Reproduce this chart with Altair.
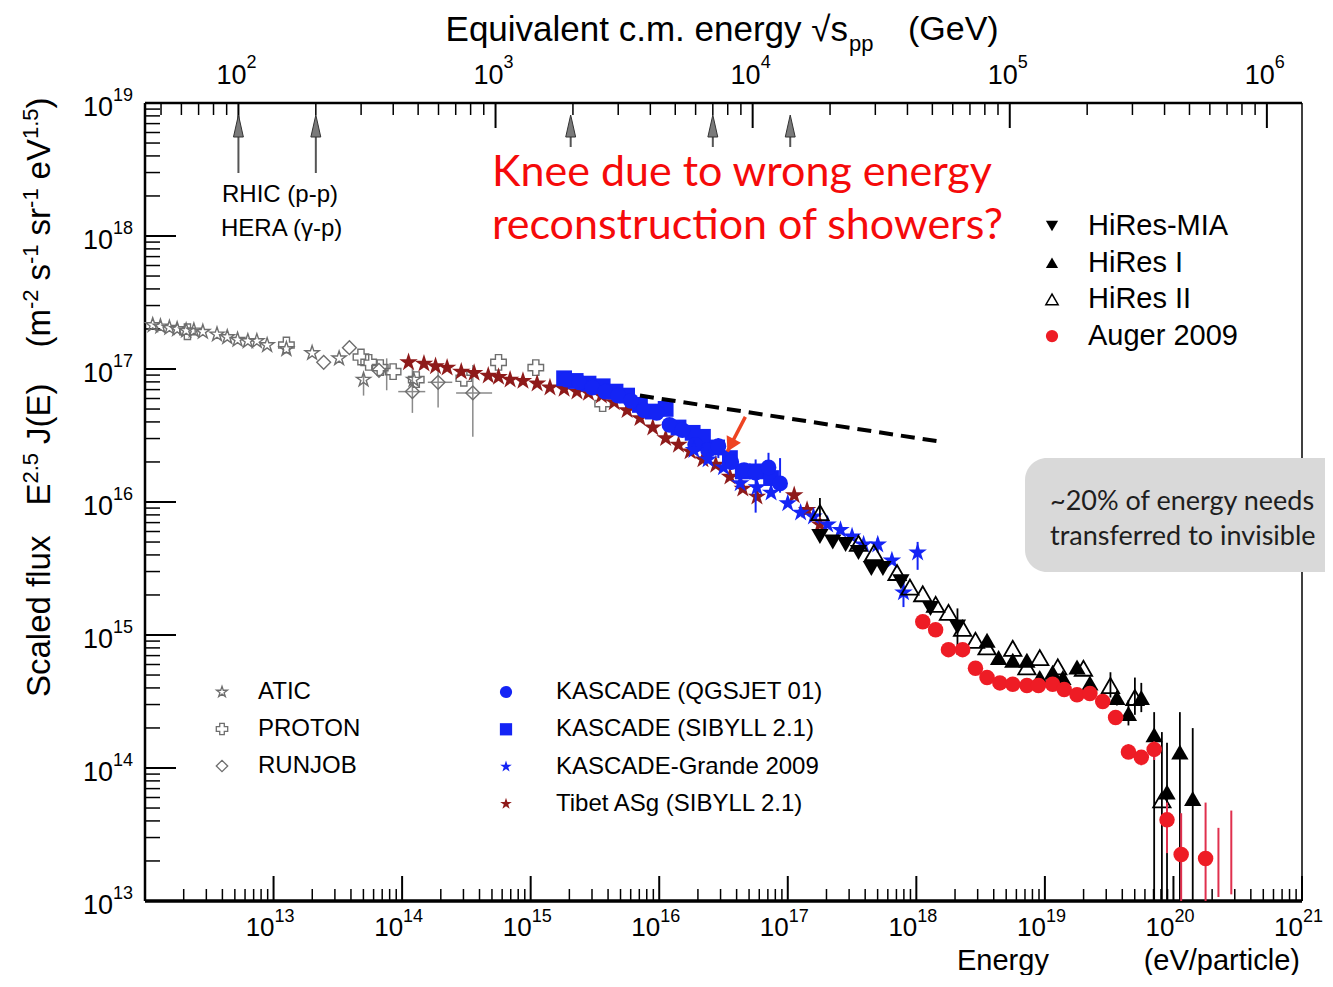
import math
import altair as alt
import numpy as np
import pandas as pd

# ----------------------------------------------------------------------
# Data: log10(E / eV) and log10(E^2.5 J(E))
# ----------------------------------------------------------------------
atic_logE = [12.06, 12.12, 12.19, 12.25, 12.32, 12.38, 12.45, 12.56, 12.64, 12.72,
             12.80, 12.87, 12.95, 13.10, 13.30, 13.51, 13.70, 14.09]
atic_logF = [17.33, 17.32, 17.31, 17.30, 17.29, 17.29, 17.28, 17.26, 17.24, 17.22,
             17.21, 17.21, 17.18, 17.15, 17.12, 17.08, 16.92, 16.92]

proton_logE = [12.33, 13.10, 13.68, 13.74, 13.83, 13.93, 14.11, 14.48, 14.75, 15.04, 15.56]
proton_logF = [17.28, 17.18, 17.09, 17.05, 17.01, 16.98, 16.92, 16.93, 17.05, 17.01, 16.74]

runjob_logE = [13.39, 13.59, 13.82, 14.08, 14.28, 14.55]
runjob_logF = [17.05, 17.16, 16.99, 16.83, 16.90, 16.82]

lowE_vbar_logE = [13.70, 13.88, 14.08, 14.28, 14.55]
lowE_vbar_lo = [16.80, 16.84, 16.67, 16.71, 16.49]
lowE_vbar_hi = [16.96, 17.08, 17.01, 17.01, 17.03]
runjob_hbar_logF = [16.83, 16.90, 16.82]
runjob_hbar_lo = [13.97, 14.20, 14.42]
runjob_hbar_hi = [14.18, 14.39, 14.70]

tibet_logE = [14.05, 14.17, 14.26, 14.35, 14.46, 14.56, 14.67, 14.75, 14.84, 14.94,
              15.05, 15.15, 15.26, 15.36, 15.45, 15.55, 15.65, 15.75, 15.85, 15.95,
              16.05, 16.15, 16.24, 16.34, 16.44, 16.55, 16.65, 16.76, 17.05, 17.15, 17.25]
tibet_logF = [17.05, 17.04, 17.02, 17.01, 16.98, 16.97, 16.95, 16.94, 16.92, 16.91,
              16.89, 16.86, 16.85, 16.83, 16.82, 16.80, 16.75, 16.69, 16.63, 16.56,
              16.48, 16.43, 16.38, 16.32, 16.28, 16.19, 16.10, 16.04, 16.05, 15.94, 15.83]

kas_sib_logE = [15.26, 15.35, 15.45, 15.56, 15.66, 15.75, 15.85, 15.95, 16.05, 16.15,
                16.26, 16.34, 16.45, 16.55, 16.65, 16.76, 16.87]
kas_sib_logF = [16.93, 16.91, 16.89, 16.87, 16.83, 16.80, 16.73, 16.68, 16.70, 16.56,
                16.52, 16.49, 16.41, 16.33, 16.23, 16.23, 16.18]

kas_qgs_logE = [15.28, 15.38, 15.48, 15.58, 15.68, 15.78, 15.88, 15.98, 16.08, 16.18,
                16.28, 16.38, 16.46, 16.56, 16.66, 16.75, 16.85, 16.94]
kas_qgs_logF = [16.92, 16.90, 16.86, 16.83, 16.80, 16.76, 16.69, 16.67, 16.58, 16.54,
                16.43, 16.39, 16.42, 16.30, 16.24, 16.22, 16.26, 16.14]
kas_qgs_err_logE = [16.46, 16.75, 16.85, 16.94]
kas_qgs_err_lo = [16.33, 15.92, 16.17, 16.07]
kas_qgs_err_hi = [16.48, 16.32, 16.37, 16.33]

grande_logE = [16.27, 16.38, 16.50, 16.63, 16.76, 16.87, 17.00, 17.10, 17.20, 17.31,
               17.41, 17.50, 17.59, 17.70, 17.81, 17.90, 18.01]
grande_logF = [16.39, 16.32, 16.26, 16.14, 16.11, 16.07, 15.99, 15.92, 15.89, 15.83,
               15.79, 15.74, 15.68, 15.68, 15.56, 15.32, 15.62]
grande_err_logE = [17.70, 17.90, 18.01]
grande_err_lo = [15.62, 15.21, 15.49]
grande_err_hi = [15.73, 15.44, 15.70]

mia_logE = [17.25, 17.35, 17.45, 17.55, 17.65, 17.74, 17.88, 18.11, 18.32]
mia_logF = [15.74, 15.70, 15.68, 15.62, 15.50, 15.50, 15.40, 15.20, 15.06]
mia_err_logE = [18.32]
mia_err_lo = [14.85]
mia_err_hi = [15.20]

hires1_logE = [18.55, 18.64, 18.75, 18.86, 18.96, 19.06, 19.14, 19.25, 19.35, 19.56,
               19.65, 19.75, 19.85, 19.95, 20.05, 20.15]
hires1_logF = [14.96, 14.83, 14.81, 14.81, 14.68, 14.72, 14.68, 14.76, 14.64, 14.53,
               14.41, 14.53, 14.25, 13.82, 14.12, 13.77]
hires1_err_logE = [19.56, 19.65, 19.75, 19.85, 19.95, 20.05, 20.15]
hires1_err_lo = [14.47, 14.32, 14.42, 13.0, 13.0, 13.0, 13.0]
hires1_err_hi = [14.58, 14.51, 14.64, 14.42, 14.19, 14.42, 14.30]

hires2_logE = [17.25, 17.55, 17.67, 17.85, 17.95, 18.05, 18.15, 18.25, 18.36, 18.46,
               18.55, 18.75, 18.86, 18.96, 19.10, 19.30, 19.51, 19.70, 19.91]
hires2_logF = [15.92, 15.69, 15.62, 15.47, 15.36, 15.31, 15.23, 15.17, 15.05, 14.96,
               14.91, 14.90, 14.76, 14.83, 14.76, 14.75, 14.62, 14.53, 13.76]
hires2_err_logE = [17.25, 19.51, 19.70, 19.91]
hires2_err_lo = [15.89, 14.53, 14.40, 13.0]
hires2_err_hi = [16.03, 14.72, 14.68, 14.27]

auger_logE = [18.05, 18.15, 18.25, 18.36, 18.46, 18.55, 18.65, 18.75, 18.86, 18.95,
              19.06, 19.15, 19.25, 19.35, 19.45, 19.55, 19.65, 19.75, 19.85, 19.95,
              20.06, 20.25]
auger_logF = [15.10, 15.04, 14.89, 14.89, 14.75, 14.68, 14.64, 14.63, 14.62, 14.62,
              14.63, 14.59, 14.55, 14.56, 14.50, 14.38, 14.12, 14.08, 14.14, 13.61,
              13.35, 13.32]
auger_err_logE = [19.65, 19.75, 19.85, 19.95, 20.06, 20.25, 20.35, 20.45]
auger_err_lo = [14.07, 14.02, 14.06, 13.36, 13.0, 13.0, 13.03, 13.05]
auger_err_hi = [14.18, 14.13, 14.20, 13.74, 13.66, 13.74, 13.55, 13.68]

# extrapolated power law (dashed) and red annotation arrow (tail, tip)
powerlaw_logE = [15.85, 18.21]
powerlaw_logF = [16.80, 16.45]
red_arrow_logE = [16.67, 16.53]
red_arrow_logF = [16.64, 16.38]

# accelerator markers on the top axis (sqrt(s) in GeV)
collider_sqrt_s = [100, 200, 1960, 7000, 14000]

# axis tick labels (exponents of ten)
bottom_exp = list(range(13, 22))
left_exp = list(range(13, 20))
top_exp = list(range(2, 7))

MP_GEV = 0.938  # proton mass

# ----------------------------------------------------------------------
W, H = 1157, 798
PAD = {"left": 137, "top": 95, "right": 23, "bottom": 74}
XDOM = [1e12, 1e21]
YDOM = [1e13, 1e19]
FONT = "Liberation Sans"
KEYNOTE = "Lato"

BLUE = "#1424f5"
TIBET = "#8e1a1a"
RED = "#ee1c25"
REDBAR = "#e0304e"
GREY = "#6e6e6e"

STAR = ("M0,-1L0.2245,-0.309L0.951,-0.309L0.363,0.118L0.588,0.809L0,0.382"
        "L-0.588,0.809L-0.363,0.118L-0.951,-0.309L-0.2245,-0.309Z")
ARROWHEAD = "M0,-1L0.45,1L-0.45,1Z"


def X(field="E"):
    return alt.X(f"{field}:Q", scale=alt.Scale(type="log", domain=XDOM), axis=None)


def Y(field="F"):
    return alt.Y(f"{field}:Q", scale=alt.Scale(type="log", domain=YDOM), axis=None)


def pts(logE, logF):
    return pd.DataFrame({"E": 10.0 ** np.array(logE, float),
                         "F": 10.0 ** np.array(logF, float)})


def vbars(logE, lo, hi):
    return pd.DataFrame({"E": 10.0 ** np.array(logE, float),
                         "lo": 10.0 ** np.array(lo, float),
                         "hi": 10.0 ** np.array(hi, float)})


def sqrt_s_to_E(v):
    return v ** 2 / (2.0 * MP_GEV) * 1e9


ONE = pd.DataFrame({"k": [0]})


def label(txt, x, y, size, align="left", color="black", font=FONT,
          baseline="middle", angle=None, limit=None):
    kw = dict(align=align, baseline=baseline, fontSize=size, font=font, color=color)
    if angle is not None:
        kw["angle"] = angle
    if limit is not None:
        kw["limit"] = limit
        kw["ellipsis"] = "\u200b"
    return alt.Chart(ONE).mark_text(**kw).encode(
        x=alt.value(x), y=alt.value(y), text=alt.value(txt))


def hrule(x1, x2, y, sw):
    return alt.Chart(ONE).mark_rule(color="black", strokeWidth=sw).encode(
        x=alt.value(x1), x2=alt.value(x2), y=alt.value(y))


def vrule(x, y1, y2, sw):
    return alt.Chart(ONE).mark_rule(color="black", strokeWidth=sw).encode(
        x=alt.value(x), y=alt.value(y1), y2=alt.value(y2))


def errbars(df, color, sw=1.6):
    return alt.Chart(df).mark_rule(color=color, strokeWidth=sw).encode(
        x=X(), y=Y("lo"), y2=alt.Y2("hi:Q"))


def points(df, shape, color, size, filled=True, sw=1.5):
    if filled:
        m = alt.Chart(df).mark_point(shape=shape, filled=True, color=color,
                                     size=size, opacity=1, strokeWidth=0)
    else:
        m = alt.Chart(df).mark_point(shape=shape, filled=False, color=color,
                                     size=size, opacity=1, strokeWidth=sw)
    return m.encode(x=X(), y=Y())


def legend_symbol(x, y, shape, color, size, filled=True, sw=1.3):
    if filled:
        m = alt.Chart(ONE).mark_point(shape=shape, filled=True, color=color,
                                      size=size, opacity=1, strokeWidth=0)
    else:
        m = alt.Chart(ONE).mark_point(shape=shape, filled=False, color=color,
                                      size=size, opacity=1, strokeWidth=sw)
    return m.encode(x=alt.value(x), y=alt.value(y))


layers = []

# ---------------- frame ----------------
layers += [hrule(0, W, 0, 2.5), hrule(0, W, H, 3.5), vrule(0, 0, H, 2.5), vrule(W, 0, H, 1.5)]

# ---------------- ticks ----------------
bx_major = pd.DataFrame({"E": [10.0 ** n for n in range(13, 22)]})
bx_minor = pd.DataFrame({"E": [k * 10.0 ** n for n in range(12, 21) for k in range(2, 10)]})
ly_major = pd.DataFrame({"F": [10.0 ** n for n in range(13, 20)]})
ly_minor = pd.DataFrame({"F": [k * 10.0 ** n for n in range(13, 19) for k in range(2, 10)]})
s_min, s_max = math.sqrt(2 * MP_GEV * XDOM[0] / 1e9), math.sqrt(2 * MP_GEV * XDOM[1] / 1e9)
top_major_vals = [10.0 ** n for n in top_exp]
top_minor_vals = [k * 10.0 ** n for n in range(1, 6) for k in range(2, 10)
                  if s_min < k * 10.0 ** n < s_max]
tx_major = pd.DataFrame({"E": [sqrt_s_to_E(v) for v in top_major_vals]})
tx_minor = pd.DataFrame({"E": [sqrt_s_to_E(v) for v in top_minor_vals]})

layers += [
    alt.Chart(bx_major).mark_rule(color="black", strokeWidth=2).encode(
        x=X(), y=alt.value(H), y2=alt.value(H - 25)),
    alt.Chart(bx_minor).mark_rule(color="black", strokeWidth=1.5).encode(
        x=X(), y=alt.value(H), y2=alt.value(H - 12)),
    alt.Chart(ly_major).mark_rule(color="black", strokeWidth=2).encode(
        y=Y(), x=alt.value(0), x2=alt.value(31)),
    alt.Chart(ly_minor).mark_rule(color="black", strokeWidth=1.5).encode(
        y=Y(), x=alt.value(0), x2=alt.value(15)),
    alt.Chart(tx_major).mark_rule(color="black", strokeWidth=2).encode(
        x=X(), y=alt.value(0), y2=alt.value(25)),
    alt.Chart(tx_minor).mark_rule(color="black", strokeWidth=1.5).encode(
        x=X(), y=alt.value(0), y2=alt.value(12)),
]

# ---------------- tick labels (10 with superscript exponent) ----------------
bl = pd.DataFrame({"E": [10.0 ** n for n in bottom_exp], "exp": [str(n) for n in bottom_exp]})
ll = pd.DataFrame({"F": [10.0 ** n for n in left_exp], "exp": [str(n) for n in left_exp]})
tl = pd.DataFrame({"E": [sqrt_s_to_E(10.0 ** n) for n in top_exp], "exp": [str(n) for n in top_exp]})

layers += [
    alt.Chart(bl).mark_text(align="right", baseline="middle", fontSize=26, font=FONT, dx=1).encode(
        x=X(), y=alt.value(H + 27), text=alt.value("10")),
    alt.Chart(bl).mark_text(align="left", baseline="middle", fontSize=18, font=FONT, dx=1).encode(
        x=X(), y=alt.value(H + 16), text="exp:N"),
    alt.Chart(ll).mark_text(align="right", baseline="middle", fontSize=27, font=FONT, dy=5).encode(
        y=Y(), x=alt.value(-32), text=alt.value("10")),
    alt.Chart(ll).mark_text(align="left", baseline="middle", fontSize=18, font=FONT, dy=-7).encode(
        y=Y(), x=alt.value(-32), text="exp:N"),
    alt.Chart(tl).mark_text(align="right", baseline="middle", fontSize=27, font=FONT, dx=8).encode(
        x=X(), y=alt.value(-27), text=alt.value("10")),
    alt.Chart(tl).mark_text(align="left", baseline="middle", fontSize=18, font=FONT, dx=8).encode(
        x=X(), y=alt.value(-40), text="exp:N"),
]

# ---------------- axis titles ----------------
layers += [
    label("Equivalent c.m. energy \u221as", 703, -73, 35, align="right"),
    label("pp", 704, -59, 22),
    label("(GeV)", 763, -73, 34),
    label("Energy", 812, 867, 29, baseline="alphabetic"),
    label("(eV/particle)", 1155, 867, 29, align="right", baseline="alphabetic"),
]

# rotated y title, built from pieces (Arial/Liberation metrics)
AW = {' ': 278, '(': 333, ')': 333, '-': 333, '.': 278, '0': 556, '1': 556, '2': 556,
      '5': 556, 'E': 667, 'J': 500, 'S': 667, 'V': 667, 'a': 556, 'c': 500, 'd': 556,
      'e': 556, 'f': 278, 'l': 222, 'm': 833, 'r': 333, 's': 500, 'u': 556, 'x': 500}


def twidth(t, size):
    return sum(AW.get(c, 556) for c in t) * size / 1000.0


ytitle_pieces = [  # text, size, superscript, gap before
    ("Scaled flux", 33, False, 0), ("E", 33, False, 30), ("2.5", 22, True, 0),
    ("J(E)", 33, False, 9), ("(m", 33, False, 36), ("-2", 22, True, 0),
    ("s", 33, False, 9), ("-1", 22, True, 0), ("sr", 33, False, 9),
    ("-1", 22, True, 0), ("eV", 33, False, 9), ("1.5", 22, True, 0),
    (")", 33, False, 0),
]
pos = 594.0
for txt, size, sup, gap in ytitle_pieces:
    pos -= gap
    layers.append(label(txt, -107 if sup else -95, pos, size, align="left",
                        baseline="alphabetic", angle=270))
    pos -= twidth(txt, size)

# ---------------- error bars ----------------
layers += [
    errbars(vbars(lowE_vbar_logE, lowE_vbar_lo, lowE_vbar_hi), "#8a8a8a", 1.5),
    alt.Chart(pd.DataFrame({"F": 10.0 ** np.array(runjob_hbar_logF),
                            "lo": 10.0 ** np.array(runjob_hbar_lo),
                            "hi": 10.0 ** np.array(runjob_hbar_hi)}))
    .mark_rule(color="#8a8a8a", strokeWidth=1.5)
    .encode(x=X("lo"), x2=alt.X2("hi:Q"), y=Y()),
]

# ---------------- low-energy direct measurements ----------------
layers += [
    points(pts(atic_logE, atic_logF), STAR, GREY, 220, filled=False, sw=1.4),
    points(pts(proton_logE, proton_logF), "cross", GREY, 240, filled=False, sw=1.4),
    points(pts(runjob_logE, runjob_logF), "diamond", GREY, 190, filled=False, sw=1.4),
]

# ---------------- air-shower data ----------------
layers += [
    points(pts(tibet_logE, tibet_logF), STAR, TIBET, 380),
    errbars(vbars(kas_qgs_err_logE, kas_qgs_err_lo, kas_qgs_err_hi), BLUE, 2),
    points(pts(kas_sib_logE, kas_sib_logF), "square", BLUE, 250),
    points(pts(kas_qgs_logE, kas_qgs_logF), "circle", BLUE, 250),
    errbars(vbars(grande_err_logE, grande_err_lo, grande_err_hi), BLUE, 2),
    points(pts(grande_logE, grande_logF), STAR, BLUE, 380),
    errbars(vbars(mia_err_logE, mia_err_lo, mia_err_hi), "black", 1.8),
    errbars(vbars(hires1_err_logE, hires1_err_lo, hires1_err_hi), "black", 1.8),
    errbars(vbars(hires2_err_logE, hires2_err_lo, hires2_err_hi), "black", 1.8),
    points(pts(mia_logE, mia_logF), "triangle-down", "black", 300),
    points(pts(hires1_logE, hires1_logF), "triangle-up", "black", 300),
    points(pts(hires2_logE, hires2_logF), "triangle-up", "black", 300, filled=False, sw=1.8),
    errbars(vbars(auger_err_logE, auger_err_lo, auger_err_hi), REDBAR, 2),
    points(pts(auger_logE, auger_logF), "circle", RED, 240),
]

# ---------------- dashed power law and red arrow ----------------
layers.append(
    alt.Chart(pts(powerlaw_logE, powerlaw_logF)).mark_line(
        color="black", strokeWidth=4, strokeDash=[14, 8]).encode(x=X(), y=Y()))

arrow_df = pts(red_arrow_logE, red_arrow_logF)
layers.append(alt.Chart(arrow_df).mark_line(color="#ee4422", strokeWidth=3.5).encode(
    x=X(), y=Y()))
px_per_dec_x = W / (math.log10(XDOM[1]) - math.log10(XDOM[0]))
px_per_dec_y = H / (math.log10(YDOM[1]) - math.log10(YDOM[0]))
ddx = (red_arrow_logE[1] - red_arrow_logE[0]) * px_per_dec_x
ddy = -(red_arrow_logF[1] - red_arrow_logF[0]) * px_per_dec_y
ang = math.degrees(math.atan2(ddx, -ddy)) % 360
head = pts([red_arrow_logE[1] + 0.18 * (red_arrow_logE[0] - red_arrow_logE[1])],
           [red_arrow_logF[1] + 0.18 * (red_arrow_logF[0] - red_arrow_logF[1])])
layers.append(alt.Chart(head).mark_point(shape="triangle-up", filled=True, color="#ee4422",
                                         size=260, opacity=1, angle=ang).encode(x=X(), y=Y()))

# ---------------- accelerator arrows on top ----------------
coll = pd.DataFrame({"E": [sqrt_s_to_E(v) for v in collider_sqrt_s]})
layers += [
    alt.Chart(coll.iloc[:2]).mark_rule(color="#555555", strokeWidth=2).encode(
        x=X(), y=alt.value(28), y2=alt.value(70)),
    alt.Chart(coll.iloc[2:]).mark_rule(color="#555555", strokeWidth=2).encode(
        x=X(), y=alt.value(28), y2=alt.value(44)),
    alt.Chart(coll).mark_point(shape=ARROWHEAD, filled=True, fill="#7a7a7a", stroke="#333333",
                               strokeWidth=1, size=484, opacity=1).encode(
        x=X(), y=alt.value(23)),
    label("RHIC (p-p)", 77, 92, 24),
    label("HERA (\u03b3-p)", 76, 126, 24),
]

# ---------------- red question ----------------
layers += [
    label("Knee due to wrong energy", 347, 70, 43, color="#f50a0a", font=KEYNOTE),
    label("reconstruction of showers?", 347, 123, 43, color="#f50a0a", font=KEYNOTE),
]

# ---------------- legends ----------------
right_leg = [("HiRes-MIA", "triangle-down", "black", True),
             ("HiRes I", "triangle-up", "black", True),
             ("HiRes II", "triangle-up", "black", False),
             ("Auger 2009", "circle", RED, True)]
for i, (name, shp, col, fil) in enumerate(right_leg):
    yy = 123 + i * 36.7
    layers.append(legend_symbol(907, yy, shp, col, 150, fil, 1.5))
    layers.append(label(name, 943, yy, 29))

left_leg = [("ATIC", STAR, GREY, False), ("PROTON", "cross", GREY, False),
            ("RUNJOB", "diamond", GREY, False)]
for i, (name, shp, col, fil) in enumerate(left_leg):
    yy = 589 + i * 37
    layers.append(legend_symbol(77, yy, shp, col, 130, fil, 1.3))
    layers.append(label(name, 113, yy, 24))

mid_leg = [("KASCADE (QGSJET 01)", "circle", BLUE), ("KASCADE (SIBYLL 2.1)", "square", BLUE),
           ("KASCADE-Grande 2009", STAR, BLUE), ("Tibet ASg (SIBYLL 2.1)", STAR, TIBET)]
for i, (name, shp, col) in enumerate(mid_leg):
    yy = 589 + i * 37.3
    layers.append(legend_symbol(361, yy, shp, col, 150, True))
    layers.append(label(name, 411, yy, 24))

# ---------------- grey callout box (runs off the right edge, as in the slide) ----------------
right_edge = W + PAD["right"]
layers += [
    alt.Chart(ONE).mark_rect(fill="#d9d9d9", cornerRadius=22).encode(
        x=alt.value(880), x2=alt.value(right_edge + 40), y=alt.value(355), y2=alt.value(469)),
    label("~20% of energy needs", 905, 399, 27, color="#1e1e1e", font=KEYNOTE,
          limit=right_edge - 905 - 1),
    label("transferred to invisible", 905, 434, 27, color="#1e1e1e", font=KEYNOTE,
          limit=right_edge - 905 - 1),
]

chart = alt.layer(*layers).properties(
    width=W, height=H,
    padding=PAD,
    autosize=alt.AutoSizeParams(type="none"),
).configure_view(stroke=None)

chart.save("out.html", embed_options={"renderer": "svg", "actions": False})
